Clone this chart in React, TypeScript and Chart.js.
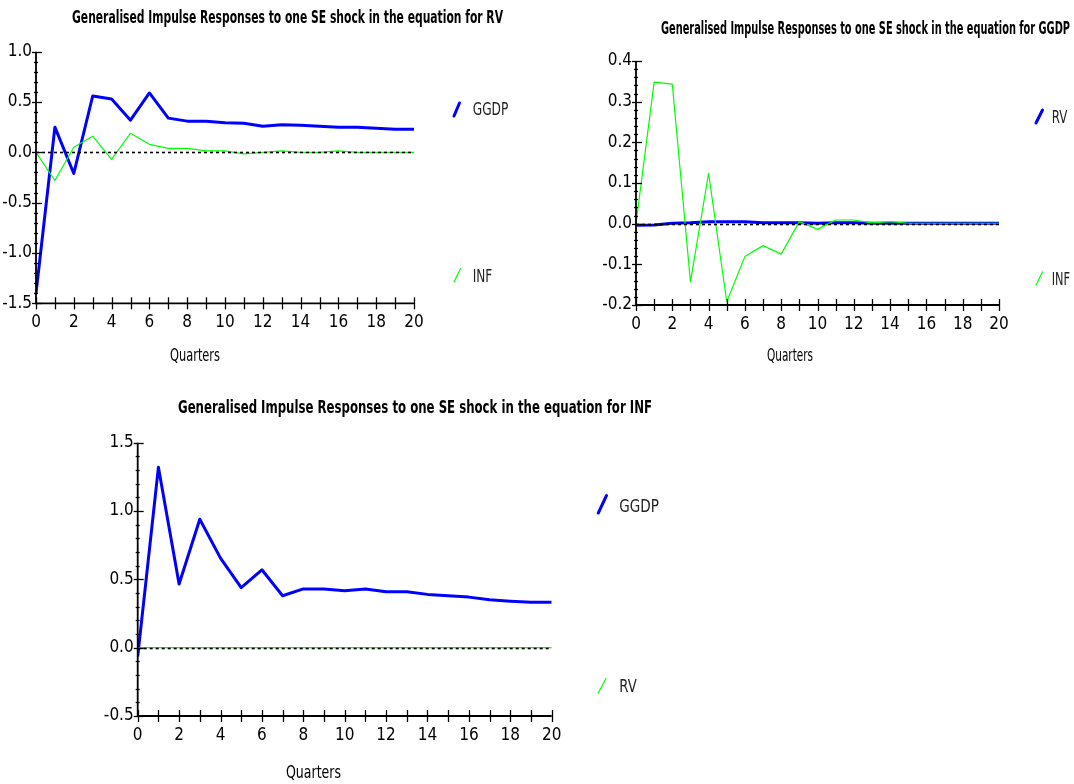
import React, { useEffect, useRef } from "react";
import { Chart, registerables } from "chart.js";

Chart.register(...registerables);

// ---------------- DATA ----------------
const quarters = [0, 1, 2, 3, 4, 5, 6, 7, 8, 9, 10, 11, 12, 13, 14, 15, 16, 17, 18, 19, 20];

// Shock in the equation for RV
const rvShockGGDP = [-1.40, 0.25, -0.21, 0.56, 0.53, 0.32, 0.59, 0.34, 0.31, 0.31, 0.295, 0.29, 0.26, 0.275, 0.27, 0.26, 0.25, 0.25, 0.24, 0.23, 0.23];
const rvShockINF = [0.0, -0.28, 0.05, 0.16, -0.07, 0.19, 0.08, 0.04, 0.04, 0.015, 0.015, -0.015, 0.0, 0.015, 0.0, 0.0, 0.015, 0.0, 0.0, 0.0, 0.0];

// Shock in the equation for GGDP
const ggdpShockRV = [-0.004, -0.003, 0.001, 0.002, 0.005, 0.005, 0.005, 0.002, 0.002, 0.002, 0.001, 0.002, 0.002, 0.001, 0.001, 0.001, 0.001, 0.001, 0.001, 0.001, 0.001];
const ggdpShockINF = [0.0, 0.348, 0.343, -0.143, 0.124, -0.192, -0.081, -0.054, -0.075, 0.005, -0.014, 0.009, 0.009, 0.002, 0.005, 0.001, 0.001, 0.001, 0.001, 0.001, 0.001];

// Shock in the equation for INF
const infShockGGDP = [-0.066, 1.32, 0.466, 0.94, 0.655, 0.44, 0.57, 0.38, 0.43, 0.43, 0.417, 0.43, 0.41, 0.41, 0.39, 0.38, 0.37, 0.35, 0.34, 0.333, 0.333];
const infShockRV = [0, 0, 0, 0, 0, 0, 0, 0, 0, 0, 0, 0, 0, 0, 0, 0, 0, 0, 0, 0, 0];

const titles = [
  "Generalised Impulse Responses to one SE shock in the equation for RV",
  "Generalised Impulse Responses to one SE shock in the equation for GGDP",
  "Generalised Impulse Responses to one SE shock in the equation for INF",
];
const xAxisTitle = "Quarters";

// ---------------- STYLE ----------------
const FONT = '"Liberation Sans Narrow", "DejaVu Sans Condensed", "Liberation Sans", Arial, sans-serif';
const BLUE = "#0000ff";
const GREEN = "#00ff00";

type Series = { label: string; data: number[]; color: string; width: number; order: number };
type Panel = {
  left: number; top: number; width: number; height: number;
  yMin: number; yMax: number; yStep: number; yMinor: number;
  yAxisW: number; padTop: number; padRight: number; xAxisH: number;
  series: Series[];
};

const panels: Panel[] = [
  {
    left: 0, top: 30, width: 440, height: 310,
    yMin: -1.5, yMax: 1.0, yStep: 0.5, yMinor: 0.1,
    yAxisW: 36, padTop: 21.7, padRight: 26, xAxisH: 36.7,
    series: [
      { label: "GGDP", data: rvShockGGDP, color: BLUE, width: 3, order: 2 },
      { label: "INF", data: rvShockINF, color: GREEN, width: 1.2, order: 1 },
    ],
  },
  {
    left: 590, top: 30, width: 440, height: 310,
    yMin: -0.2, yMax: 0.4, yStep: 0.1, yMinor: 0.02,
    yAxisW: 46, padTop: 31, padRight: 31, xAxisH: 35,
    series: [
      { label: "RV", data: ggdpShockRV, color: BLUE, width: 3, order: 2 },
      { label: "INF", data: ggdpShockINF, color: GREEN, width: 1.2, order: 1 },
    ],
  },
  {
    left: 100, top: 420, width: 480, height: 330,
    yMin: -0.5, yMax: 1.5, yStep: 0.5, yMinor: 0.1,
    yAxisW: 37.7, padTop: 22.7, padRight: 28.3, xAxisH: 34,
    series: [
      { label: "GGDP", data: infShockGGDP, color: BLUE, width: 3, order: 2 },
      { label: "RV", data: infShockRV, color: GREEN, width: 1.2, order: 1 },
    ],
  },
];

const axesPlugin = {
  id: "impulseAxes",
  afterDatasetsDraw(chart: any, _args: any, opts: any) {
    const { ctx, chartArea: a } = chart;
    const x = chart.scales.x;
    const y = chart.scales.y;
    ctx.save();
    // zero reference line (dashed)
    const y0 = Math.round(y.getPixelForValue(0)) + 0.5;
    ctx.strokeStyle = "#000";
    ctx.lineWidth = 1.6;
    ctx.setLineDash([3, 3]);
    ctx.beginPath();
    ctx.moveTo(x.getPixelForValue(x.min), y0);
    ctx.lineTo(x.getPixelForValue(x.max), y0);
    ctx.stroke();
    ctx.setLineDash([]);
    // axis lines
    ctx.lineWidth = 1.8;
    ctx.beginPath();
    ctx.moveTo(a.left, a.top);
    ctx.lineTo(a.left, a.bottom);
    ctx.lineTo(a.right, a.bottom);
    ctx.stroke();
    // x ticks (crossing)
    ctx.lineWidth = 1.3;
    for (let i = x.min; i <= x.max; i++) {
      const px = Math.round(x.getPixelForValue(i)) + 0.5;
      ctx.beginPath();
      ctx.moveTo(px, a.bottom - 6);
      ctx.lineTo(px, a.bottom + 6);
      ctx.stroke();
    }
    // y ticks, major and minor
    const n = Math.round((y.max - y.min) / opts.minor);
    for (let k = 0; k <= n; k++) {
      const v = y.min + k * opts.minor;
      const r = v / opts.major;
      const isMajor = Math.abs(r - Math.round(r)) < 1e-6;
      const py = Math.round(y.getPixelForValue(v)) + 0.5;
      ctx.beginPath();
      if (isMajor) {
        ctx.moveTo(a.left - 4, py);
        ctx.lineTo(a.left + 6, py);
      } else {
        ctx.moveTo(a.left - 2, py);
        ctx.lineTo(a.left + 2, py);
      }
      ctx.stroke();
    }
    ctx.restore();
  },
};

function PanelChart({ p }: { p: Panel }) {
  const ref = useRef<HTMLCanvasElement | null>(null);
  useEffect(() => {
    if (!ref.current) return;
    const chart = new Chart(ref.current, {
      type: "line",
      data: {
        labels: quarters,
        datasets: p.series.map((s) => ({
          label: s.label,
          data: s.data.map((v, i) => ({ x: quarters[i], y: v })),
          borderColor: s.color,
          backgroundColor: s.color,
          borderWidth: s.width,
          pointRadius: 0,
          tension: 0,
          fill: false,
          order: s.order,
          borderJoinStyle: "round" as const,
        })),
      },
      options: {
        responsive: false,
        animation: false,
        devicePixelRatio: 1,
        layout: { padding: { left: 0, top: p.padTop, right: p.padRight, bottom: 0 } },
        plugins: {
          legend: { display: false },
          tooltip: { enabled: false },
          title: { display: false },
          impulseAxes: { minor: p.yMinor, major: p.yStep },
        } as any,
        scales: {
          x: {
            type: "linear",
            min: 0,
            max: 20,
            grid: { display: false, drawTicks: false },
            border: { display: false },
            ticks: {
              stepSize: 1,
              autoSkip: false,
              maxRotation: 0,
              padding: 9,
              color: "#000",
              font: { family: FONT, size: 17 },
              callback: (v: any) => (Number(v) % 2 === 0 ? String(v) : ""),
            },
            afterFit: (s: any) => { s.height = p.xAxisH; },
          },
          y: {
            type: "linear",
            min: p.yMin,
            max: p.yMax,
            grid: { display: false, drawTicks: false },
            border: { display: false },
            ticks: {
              stepSize: p.yStep,
              padding: 4,
              color: "#000",
              font: { family: FONT, size: 17 },
              callback: (v: any) => (Math.abs(Number(v)) < 1e-9 ? "0.0" : Number(v).toFixed(1)),
            },
            afterFit: (s: any) => { s.width = p.yAxisW; },
          },
        },
      } as any,
      plugins: [axesPlugin as any],
    });
    return () => chart.destroy();
  }, [p]);
  return (
    <canvas
      ref={ref}
      width={p.width}
      height={p.height}
      style={{ position: "absolute", left: p.left, top: p.top, width: p.width, height: p.height }}
    />
  );
}

type TextItem = { x: number; y: number; w: number; text: string; bold?: boolean; size: number };
const texts: TextItem[] = [
  { x: 72, y: 23, w: 431, text: titles[0], bold: true, size: 17 },
  { x: 661, y: 34, w: 409, text: titles[1], bold: true, size: 17 },
  { x: 178, y: 413, w: 474, text: titles[2], bold: true, size: 17 },
  { x: 170, y: 361, w: 50, text: xAxisTitle, size: 17 },
  { x: 767, y: 361, w: 46, text: xAxisTitle, size: 17 },
  { x: 286, y: 778, w: 55, text: xAxisTitle, size: 17 },
];

type LegendItem = { x1: number; y1: number; x2: number; y2: number; color: string; lw: number; tx: number; ty: number; tw: number; text: string };
const legends: LegendItem[] = [
  { x1: 454, y1: 116, x2: 459.5, y2: 103, color: BLUE, lw: 3, tx: 472.7, ty: 115, tw: 35.6, text: panels[0].series[0].label },
  { x1: 454, y1: 282, x2: 460.5, y2: 268.5, color: GREEN, lw: 1.2, tx: 472.7, ty: 281.7, tw: 19.6, text: panels[0].series[1].label },
  { x1: 1036, y1: 123, x2: 1042.5, y2: 110, color: BLUE, lw: 3, tx: 1051.7, ty: 123, tw: 15.6, text: panels[1].series[0].label },
  { x1: 1036, y1: 285, x2: 1042.5, y2: 272, color: GREEN, lw: 1.2, tx: 1051.7, ty: 285, tw: 18.3, text: panels[1].series[1].label },
  { x1: 598.3, y1: 513, x2: 606.5, y2: 495.5, color: BLUE, lw: 3, tx: 619.3, ty: 511.7, tw: 39.7, text: panels[2].series[0].label },
  { x1: 598.3, y1: 693, x2: 606, y2: 678.5, color: GREEN, lw: 1.2, tx: 619.3, ty: 691.7, tw: 17.4, text: panels[2].series[1].label },
];

export default function App() {
  return (
    <div
      style={{
        position: "absolute",
        left: 0,
        top: 0,
        width: 1074,
        height: 784,
        background: "#fff",
        overflow: "hidden",
      }}
    >
      {panels.map((p, i) => (
        <PanelChart key={i} p={p} />
      ))}
      <svg
        width={1074}
        height={784}
        style={{ position: "absolute", left: 0, top: 0, pointerEvents: "none" }}
      >
        {texts.map((t, i) => (
          <text
            key={"t" + i}
            x={t.x}
            y={t.y}
            textLength={t.w}
            lengthAdjust="spacingAndGlyphs"
            fontFamily={FONT}
            fontSize={t.size}
            fontWeight={t.bold ? "bold" : "normal"}
            fill="#000"
          >
            {t.text}
          </text>
        ))}
        {legends.map((l, i) => (
          <g key={"l" + i}>
            <line x1={l.x1} y1={l.y1} x2={l.x2} y2={l.y2} stroke={l.color} strokeWidth={l.lw} strokeLinecap="round" />
            <text
              x={l.tx}
              y={l.ty}
              textLength={l.tw}
              lengthAdjust="spacingAndGlyphs"
              fontFamily={FONT}
              fontSize={17}
              fill="#222"
            >
              {l.text}
            </text>
          </g>
        ))}
      </svg>
    </div>
  );
}
